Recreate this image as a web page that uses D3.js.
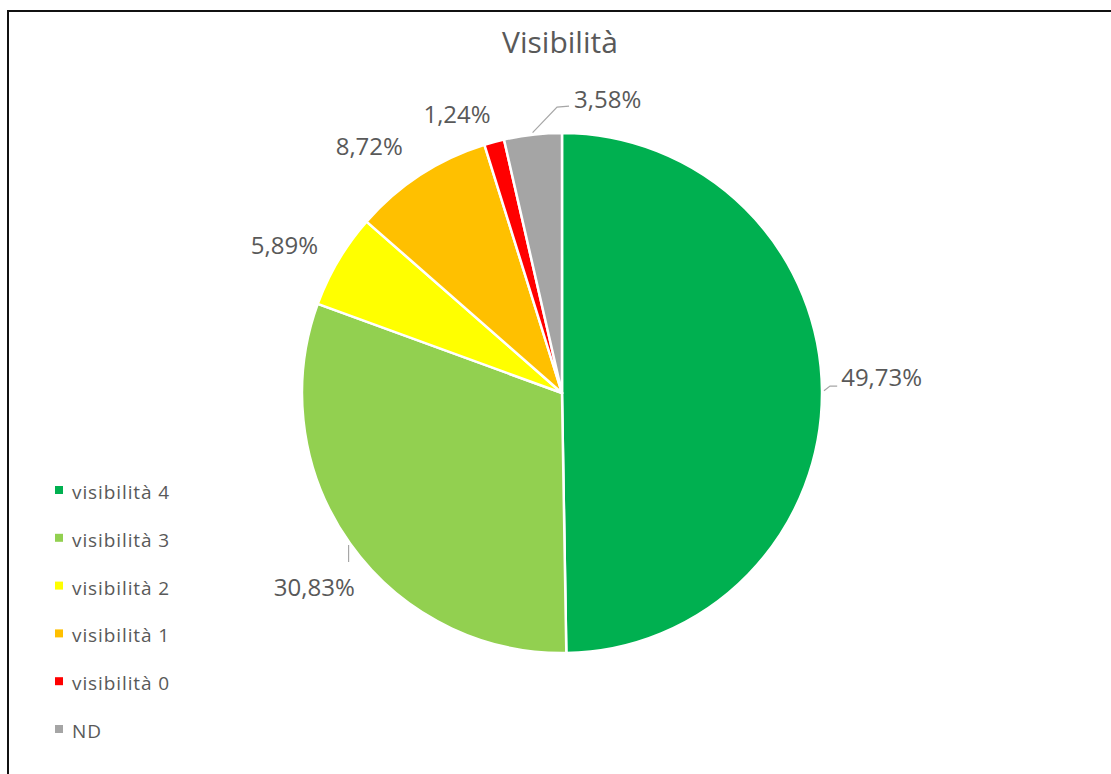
<!DOCTYPE html>
<html>
<head>
<meta charset="utf-8">
<script src="https://cdn.jsdelivr.net/npm/d3@7"></script>
<style>
  html, body { margin: 0; padding: 0; background: #fff; }
  svg { display: block; }
  text { font-family: "Open Sans", "Noto Sans", sans-serif; fill: #595959; }
</style>
</head>
<body>
<svg id="chart" width="1111" height="774"></svg>
<script>
// ---- data ----
const categories = ["visibilità 4", "visibilità 3", "visibilità 2", "visibilità 1", "visibilità 0", "ND"];
const values = [49.73, 30.83, 5.89, 8.72, 1.24, 3.58];
const valueLabels = ["49,73%", "30,83%", "5,89%", "8,72%", "1,24%", "3,58%"];
const colors = ["#00B050", "#92D050", "#FFFF00", "#FFC000", "#FF0000", "#A5A5A5"];
const title = "Visibilità";

// ---- layout ----
const W = 1111, H = 774;
const cx = 562, cy = 393, R = 260;
// label placement: angle shift (deg) from slice middle and distance from centre
const labelShift = [-2.2, -2.7, -2.6, -5.0, -5.5, 15.3];
const labelDist = [320, 315, 314.5, 312.7, 298, 296.5];
const hasLeader = [true, true, false, false, false, true];

const svg = d3.select("#chart");

// frame (top and left edges visible, rest cropped)
svg.append("rect")
  .attr("x", 8).attr("y", 11)
  .attr("width", 1300).attr("height", 900)
  .attr("fill", "none").attr("stroke", "#111").attr("stroke-width", 2);

svg.append("text")
  .attr("x", 560).attr("y", 53)
  .attr("text-anchor", "middle")
  .style("font-size", "30px")
  .text(title);

const pie = d3.pie().sort(null).value(d => d)(values);
const arc = d3.arc().innerRadius(0).outerRadius(R);

const g = svg.append("g").attr("transform", `translate(${cx},${cy})`);
g.selectAll("path.slice")
  .data(pie)
  .join("path")
  .attr("class", "slice")
  .attr("d", arc)
  .attr("fill", (d, i) => colors[i])
  .attr("stroke", "#fff")
  .attr("stroke-width", 2.5)
  .attr("stroke-linejoin", "round");

const polar = (ang, r) => [r * Math.sin(ang), -r * Math.cos(ang)];
const deg = Math.PI / 180;

pie.forEach((d, i) => {
  const mid = (d.startAngle + d.endAngle) / 2;
  const la = mid + labelShift[i] * deg;
  const [lx, ly] = polar(la, labelDist[i]);
  const t = g.append("text")
    .attr("x", lx).attr("y", ly)
    .attr("text-anchor", "middle")
    .attr("dy", "0.35em")
    .style("font-size", "24px")
    .text(valueLabels[i]);
  if (hasLeader[i]) {
    const bb = t.node().getBBox();
    const [sx, sy] = polar(mid, R + 2);
    let pts;
    if (lx > 0 && Math.abs(ly) < 100) {
      // right side label: short hook to left edge
      const ex = bb.x - 4, ey = ly + 8;
      pts = [[sx, sy], [sx + 6, ey], [ex, ey]];
    } else if (ly > 0) {
      // below-left: vertical line to the label's top
      const ex = sx, ey = bb.y - 8;
      pts = [[sx, sy], [ex, ey]];
    } else {
      // above: diagonal then short horizontal to label's left
      const ex = bb.x - 5, ey = ly + 7;
      pts = [[sx, sy], [ex - 12, ey], [ex, ey - 1]];
    }
    g.append("path")
      .attr("d", d3.line()(pts))
      .attr("fill", "none")
      .attr("stroke", "#A6A6A6")
      .attr("stroke-width", 1.2);
  }
});

// legend
const legend = svg.append("g").attr("transform", "translate(55,490)");
const yLeg = d3.scalePoint().domain(categories).range([0, 239]);
const items = legend.selectAll("g.item").data(categories).join("g")
  .attr("class", "item")
  .attr("transform", d => `translate(0,${yLeg(d)})`);
items.append("rect")
  .attr("x", 0).attr("y", -4).attr("width", 8).attr("height", 8)
  .attr("fill", (d, i) => colors[i]);
items.append("text")
  .attr("x", 17).attr("y", 1).attr("dy", "0.42em")
  .style("font-size", "19px")
  .style("letter-spacing", "0.9px")
  .text(d => d);
</script>
</body>
</html>
